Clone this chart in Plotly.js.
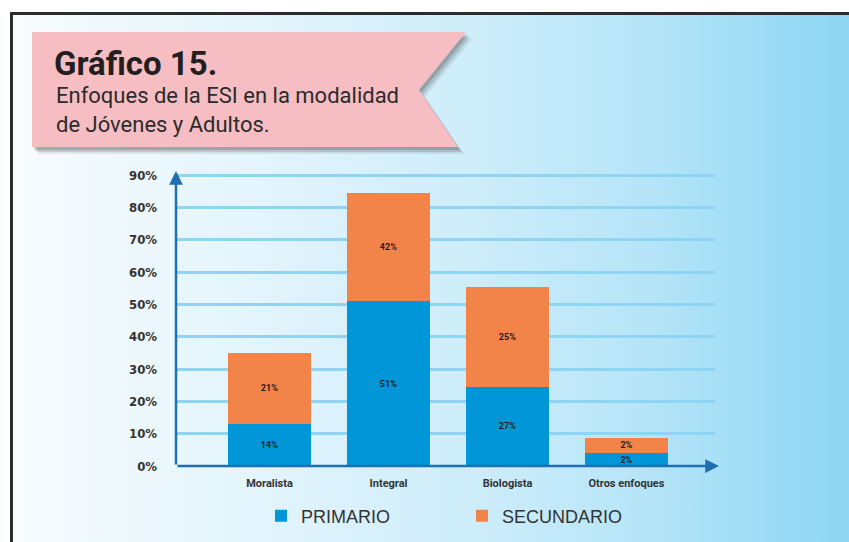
<!DOCTYPE html>
<html>
<head>
<meta charset="utf-8">
<script src="https://cdn.plot.ly/plotly-3.0.1.min.js"></script>
<style>
  html, body { margin: 0; padding: 0; background: #ffffff; }
  #wrap { position: relative; width: 849px; height: 542px; overflow: hidden; background: #ffffff; }
  #bg { position: absolute; left: 10px; top: 12px; right: -5px; bottom: -5px;
        border-top: 3px solid #2c2c2c; border-left: 3px solid #2c2c2c;
        background: linear-gradient(to right, #f7fcfe 0%, #e2f4fc 30%, #cdedfa 55%, #b6e5f8 75%, #8cd5f3 100%); }
  #chart { position: absolute; left: 0; top: 0; width: 849px; height: 542px; }
</style>
</head>
<body>
<div id="wrap">
  <div id="bg"></div>
  <div id="chart"></div>
</div>
<script>
// ---- data ----
const categories = ['Moralista', 'Integral', 'Biologista', 'Otros enfoques'];
const primario   = [13, 51, 24.5, 4];      // drawn bar heights (%)
const secundario = [22, 33.5, 31, 4.7];    // drawn bar heights (%)
const primarioLabels   = ['14%', '51%', '27%', '2%'];
const secundarioLabels = ['21%', '42%', '25%', '2%'];
const yTickVals  = [0, 10, 20, 30, 40, 50, 60, 70, 80, 90];
const yTickText  = ['0%', '10%', '20%', '30%', '40%', '50%', '60%', '70%', '80%', '90%'];

// ---- layout geometry (pixels) ----
const W = 849, H = 542;
const mL = 176, mR = 134, mT = 168, mB = 76;
const pw = W - mL - mR, ph = H - mT - mB;
const px = x => (x - mL) / pw;
const py = y => (H - mB - y) / ph;
function pathFrom(pts, dx, dy) {
  return pts.map((p, i) => (i ? 'L' : 'M') + px(p[0] + dx).toFixed(4) + ',' + py(p[1] + dy).toFixed(4)).join(' ') + ' Z';
}
const ribbon = [[32, 32], [466, 32], [419, 90], [458, 147], [32, 147]];

const narrow = 'Liberation Sans Narrow, Arial Narrow, DejaVu Sans Condensed, sans-serif';
const tickFont = { family: narrow, size: 13, color: '#333333', weight: 'bold' };

const traces = [
  {
    type: 'bar', name: 'PRIMARIO', x: categories, y: primario,
    text: primarioLabels, texttemplate: '%{text}', textposition: 'inside',
    insidetextanchor: 'middle', textangle: 0, constraintext: 'none',
    textfont: { family: 'Roboto, sans-serif', size: 9, color: '#231f20', weight: 'bold' },
    marker: { color: '#0096d8' }, hoverinfo: 'skip'
  },
  {
    type: 'bar', name: 'SECUNDARIO', x: categories, y: secundario,
    text: secundarioLabels, texttemplate: '%{text}', textposition: 'inside',
    insidetextanchor: 'middle', textangle: 0, constraintext: 'none',
    textfont: { family: 'Roboto, sans-serif', size: 9, color: '#231f20', weight: 'bold' },
    marker: { color: '#f38449' }, hoverinfo: 'skip'
  }
];

const layout = {
  width: W, height: H,
  margin: { l: mL, r: mR, t: mT, b: mB, pad: 0, autoexpand: false },
  paper_bgcolor: 'rgba(0,0,0,0)', plot_bgcolor: 'rgba(0,0,0,0)',
  barmode: 'stack', bargap: 0.30,
  showlegend: true,
  legend: {
    orientation: 'h', x: px(261), xanchor: 'left', y: py(516), yanchor: 'middle',
    font: { family: 'Liberation Sans, Arial, sans-serif', size: 18, color: '#333333' },
    bgcolor: 'rgba(0,0,0,0)', entrywidth: 156, entrywidthmode: 'pixels',
    traceorder: 'normal'
  },
  xaxis: {
    type: 'category', range: [-0.786, 3.744], showgrid: false, zeroline: false,
    showline: false, ticks: '', ticklabelstandoff: 9,
    tickfont: { family: 'Roboto, sans-serif', size: 11, color: '#333333', weight: 'bold' },
    fixedrange: true
  },
  yaxis: {
    range: [0, (H - mB - 168) / 32.33 * 10], tickvals: yTickVals, ticktext: yTickText,
    showgrid: true, gridcolor: '#8fd4f2', gridwidth: 3, zeroline: false, showline: false,
    ticks: '', ticklabelstandoff: 18, tickfont: tickFont, fixedrange: true
  },
  shapes: [
    { type: 'path', xref: 'paper', yref: 'paper', path: pathFrom(ribbon, 6, 7), fillcolor: 'rgba(60,60,60,0.10)', line: { width: 0 }, layer: 'below' },
    { type: 'path', xref: 'paper', yref: 'paper', path: pathFrom(ribbon, 4, 5), fillcolor: 'rgba(60,60,60,0.18)', line: { width: 0 }, layer: 'below' },
    { type: 'path', xref: 'paper', yref: 'paper', path: pathFrom(ribbon, 2, 3), fillcolor: 'rgba(60,60,60,0.22)', line: { width: 0 }, layer: 'below' },
    { type: 'path', xref: 'paper', yref: 'paper', path: pathFrom(ribbon, 0, 0), fillcolor: '#f6bec3', line: { width: 0 }, layer: 'below' }
  ],
  annotations: [
    { xref: 'paper', yref: 'paper', x: px(52), y: py(63), xanchor: 'left', yanchor: 'middle',
      text: '<b>Gráfico 15.</b>', showarrow: false,
      font: { family: 'Roboto, sans-serif', size: 33, color: '#231f20' } },
    { xref: 'paper', yref: 'paper', x: px(54), y: py(110), xanchor: 'left', yanchor: 'middle', align: 'left',
      text: 'Enfoques de la ESI en la modalidad<br>de Jóvenes y Adultos.', showarrow: false,
      font: { family: 'Roboto, sans-serif', size: 22, color: '#2b2b2b' } },
    // axis arrows
    { xref: 'paper', yref: 'paper', x: 0, y: py(171), ax: 0, ay: 295, axref: 'pixel', ayref: 'pixel',
      text: '', showarrow: true, arrowhead: 2, arrowsize: 1.1, arrowwidth: 2.5, arrowcolor: '#1f6fb2', standoff: 0 },
    { xref: 'paper', yref: 'paper', x: px(719), y: 0, ax: -543, ay: 0, axref: 'pixel', ayref: 'pixel',
      text: '', showarrow: true, arrowhead: 2, arrowsize: 1.1, arrowwidth: 2.5, arrowcolor: '#1f6fb2', standoff: 0 }
  ]
};

Plotly.newPlot('chart', traces, layout, { staticPlot: true, displayModeBar: false });
</script>
</body>
</html>
